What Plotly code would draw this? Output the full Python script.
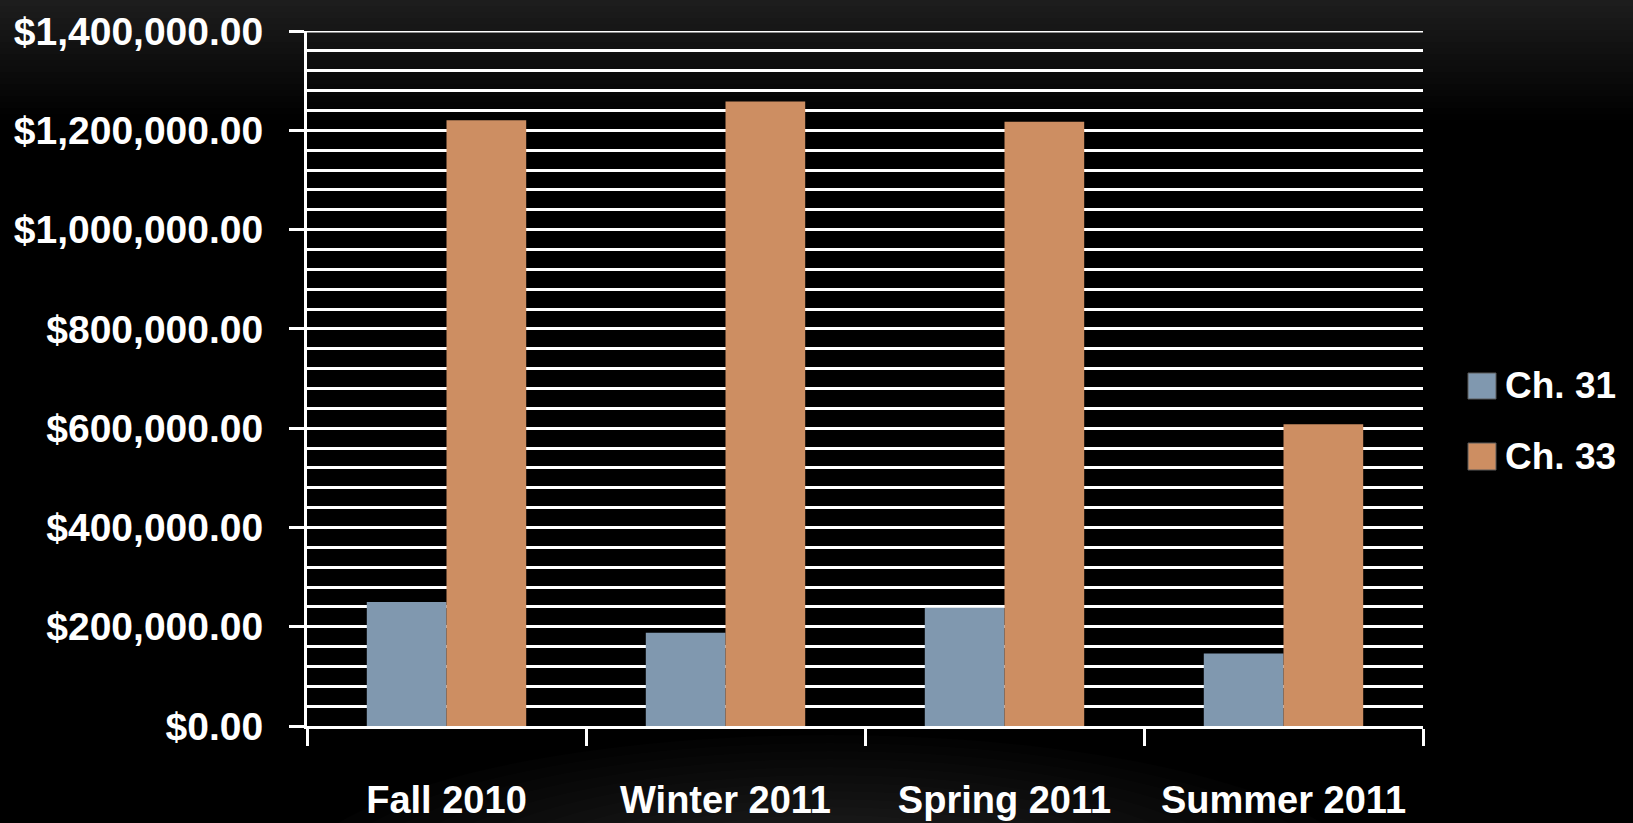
import plotly.graph_objects as go

categories = ["Fall 2010", "Winter 2011", "Spring 2011", "Summer 2011"]
series_names = ["Ch. 31", "Ch. 33"]
ch31_values = [250000, 188000, 238000, 146000]
ch33_values = [1220000, 1258000, 1217000, 608000]
series_colors = ["#8098AF", "#CD8E62"]

W, H = 1633, 823
L, R, T, B = 307, 210, 31, 97
PW, PH = W - L - R, H - T - B
Y_MAX = 1400000

FONT = "Liberation Sans, Arial, sans-serif"

def px_x(px):
    return (px - L) / PW

def px_y(py):
    return (H - B - py) / PH

fig = go.Figure()
for name, vals, col in zip(series_names, [ch31_values, ch33_values], series_colors):
    fig.add_trace(go.Bar(x=categories, y=vals, name=name,
                         marker=dict(color=col, line=dict(width=0)),
                         showlegend=False))

shapes = []
# background gradient at top
nb = 20
for i in range(nb):
    y0 = i * 6
    y1 = (i + 1) * 6
    c = int(29 * (1 - i / nb))
    shapes.append(dict(type="rect", xref="paper", yref="paper", layer="below",
                       x0=px_x(0), x1=px_x(W), y0=px_y(y1), y1=px_y(y0),
                       fillcolor=f"rgb({c},{c},{c})", line=dict(width=0)))
# soft glow at the bottom centre
ng = 16
for i in range(ng):
    rx = 540 - i * 30
    ry = 150 - i * 8
    cx, cy = 830, 885
    shapes.append(dict(type="circle", xref="paper", yref="paper", layer="below",
                       x0=px_x(cx - rx), x1=px_x(cx + rx), y0=px_y(cy + ry), y1=px_y(cy - ry),
                       fillcolor="rgba(255,255,255,0.011)", line=dict(width=0)))
# top gridline at the range end
shapes.append(dict(type="line", xref="paper", yref="y", layer="below",
                   x0=0, x1=1, y0=Y_MAX, y1=Y_MAX, line=dict(color="white", width=3)))
# legend squares
box_y = [(373, 399), (443, 470)]
for (ya, yb), col in zip(box_y, series_colors):
    shapes.append(dict(type="rect", xref="paper", yref="paper",
                       x0=px_x(1468), x1=px_x(1496), y0=px_y(yb), y1=px_y(ya),
                       fillcolor=col, line=dict(width=1, color="#5a5a5a")))

annotations = []
for (ya, yb), name in zip(box_y, series_names):
    annotations.append(dict(xref="paper", yref="paper", x=px_x(1503), y=px_y((ya + yb) / 2),
                            xanchor="left", yanchor="middle", text=name, showarrow=False,
                            font=dict(family=FONT, size=37, color="white", weight="bold")))

fig.update_layout(
    width=W, height=H,
    margin=dict(l=L, r=R, t=T, b=B, pad=0),
    paper_bgcolor="black",
    plot_bgcolor="rgba(0,0,0,0)",
    barmode="group",
    bargap=0.4286,
    bargroupgap=0,
    shapes=shapes,
    annotations=annotations,
    showlegend=False,
    font=dict(family=FONT, color="white", weight="bold"),
)
fig.update_xaxes(
    type="category", automargin=False, tickangle=0,
    showline=True, linecolor="white", linewidth=3,
    ticks="outside", tickson="boundaries", ticklen=17, tickwidth=3, tickcolor="white",
    showgrid=False,
    tickfont=dict(family=FONT, size=38, color="white", weight="bold"),
    ticklabelstandoff=38,
)
fig.update_yaxes(
    range=[0, Y_MAX], dtick=200000, tickformat="$,.2f", automargin=False,
    showline=True, linecolor="white", linewidth=3,
    ticks="outside", ticklen=15, tickwidth=3, tickcolor="white",
    showgrid=True, gridcolor="white", gridwidth=3,
    zeroline=False,
    minor=dict(dtick=40000, showgrid=True, gridcolor="white", gridwidth=3, ticks=""),
    tickfont=dict(family=FONT, size=39, color="white", weight="bold"),
    ticklabelstandoff=18,
)

fig.write_html("out.html", config={"displayModeBar": False},
               post_script="document.body.style.margin='0';document.body.style.background='black';")
